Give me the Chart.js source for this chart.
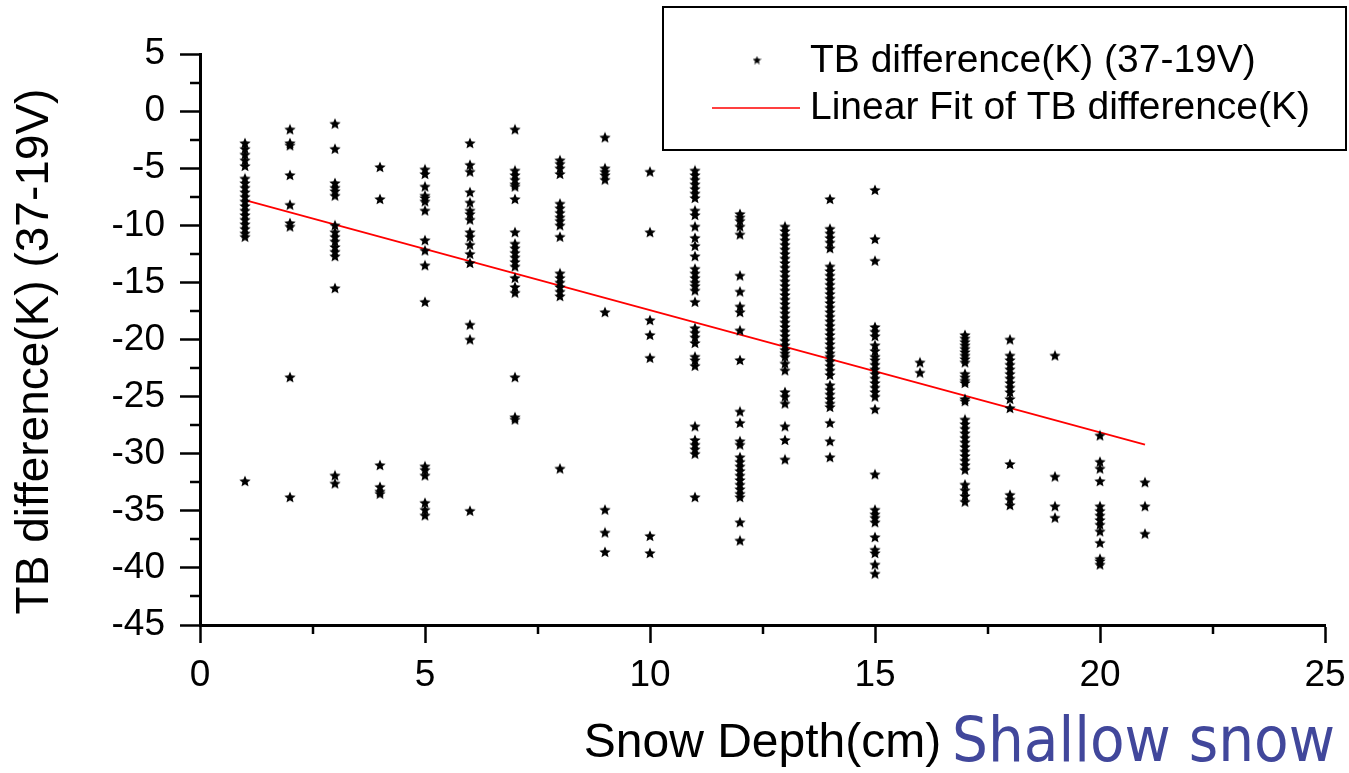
<!DOCTYPE html>
<html>
<head>
<meta charset="utf-8">
<title>TB difference vs snow depth</title>
<script src="https://cdn.jsdelivr.net/npm/chart.js@4.4.1/dist/chart.umd.min.js"></script>
<style>
  html, body { margin: 0; padding: 0; background: #fff; }
  #wrap { position: relative; width: 1349px; height: 773px; }
</style>
</head>
<body>
<div id="wrap"><canvas id="scatter" width="1349" height="773"></canvas></div>
<script>
// TB difference (37-19V) in K, one array per snow depth (cm)
const tb1 = [-2.8, -3.3, -3.8, -4.3, -4.8, -5.9, -6.3, -6.7, -7.1, -7.5, -7.9, -8.3, -8.7, -9.1, -9.5, -9.9, -10.3, -10.7, -11.0, -32.4];
const tb2 = [-1.6, -2.8, -3.0, -5.6, -8.2, -9.8, -10.1, -23.3, -33.8];
const tb3 = [-1.1, -3.3, -6.3, -6.7, -7.0, -7.4, -10.0, -10.6, -11.0, -11.4, -11.9, -12.3, -12.7, -15.5, -31.9, -32.6];
const tb4 = [-4.9, -7.7, -31.0, -32.9, -33.3, -33.5];
const tb5 = [-5.1, -5.5, -6.6, -7.4, -7.6, -7.9, -8.7, -11.3, -12.2, -13.5, -16.7, -31.1, -31.4, -31.9, -34.3, -34.9, -35.4];
const tb6 = [-2.8, -4.7, -5.3, -7.1, -8.0, -8.7, -9.0, -9.5, -10.6, -11.0, -11.7, -12.5, -13.3, -18.7, -20.0, -35.0];
const tb7 = [-1.6, -5.2, -5.6, -6.0, -6.4, -6.6, -7.7, -10.6, -11.6, -12.0, -12.4, -12.8, -13.2, -13.6, -14.6, -15.4, -15.9, -23.3, -26.8, -27.0];
const tb8 = [-4.3, -4.6, -5.0, -5.5, -8.1, -8.5, -8.9, -9.3, -9.6, -10.0, -11.0, -14.2, -14.6, -15.0, -15.4, -15.8, -16.2, -31.3];
const tb9 = [-2.3, -5.0, -5.3, -5.6, -6.0, -17.6, -34.9, -36.9, -38.6];
const tb10 = [-5.3, -10.6, -18.3, -19.6, -21.6, -37.2, -38.7];
const tb11 = [-5.2, -5.6, -6.0, -6.4, -6.8, -7.2, -7.6, -8.7, -9.1, -10.1, -11.1, -11.8, -12.7, -13.8, -14.2, -14.6, -15.0, -15.3, -15.7, -16.7, -19.0, -19.4, -19.8, -20.3, -21.5, -21.8, -22.3, -27.6, -28.8, -29.2, -29.6, -30.0, -33.8];
const tb12 = [-9.0, -9.3, -9.6, -10.1, -10.8, -14.4, -15.8, -17.1, -17.6, -19.2, -21.8, -26.3, -27.3, -28.9, -29.2, -30.3, -30.7, -31.1, -31.5, -31.9, -32.3, -32.7, -33.1, -33.5, -33.8, -36.0, -37.6];
const tb13 = [-10.1, -10.5, -10.9, -11.3, -11.7, -12.1, -12.5, -12.9, -13.3, -13.7, -14.1, -14.5, -14.9, -15.3, -15.7, -16.1, -16.5, -16.9, -17.3, -17.7, -18.1, -18.5, -18.9, -19.3, -19.7, -20.1, -20.5, -20.9, -21.2, -21.5, -22.1, -22.7, -24.6, -25.0, -25.6, -27.6, -28.8, -30.5];
const tb14 = [-7.7, -10.3, -10.7, -11.1, -11.5, -12.0, -13.6, -14.0, -14.4, -14.8, -15.2, -15.6, -16.0, -16.4, -16.8, -17.2, -17.6, -18.0, -18.4, -18.8, -19.2, -19.6, -20.0, -20.4, -20.8, -21.2, -21.5, -21.9, -22.3, -22.7, -23.1, -24.0, -24.4, -24.8, -25.2, -25.6, -25.9, -27.3, -28.9, -30.3];
const tb15 = [-6.9, -11.2, -13.1, -18.9, -19.3, -19.7, -20.5, -21.0, -21.5, -21.8, -22.2, -22.6, -23.0, -23.4, -23.8, -24.2, -24.6, -25.0, -26.1, -31.8, -34.9, -35.3, -35.6, -36.0, -37.3, -38.4, -38.7, -39.7, -40.5];
const tb16 = [-22.0, -22.9];
const tb17 = [-19.6, -19.9, -20.2, -20.5, -20.8, -21.1, -21.4, -21.7, -22.0, -23.0, -23.3, -23.6, -23.8, -25.2, -25.4, -27.0, -27.4, -27.8, -28.2, -28.6, -29.0, -29.4, -29.8, -30.2, -30.6, -31.0, -31.4, -32.7, -33.2, -33.7, -34.2];
const tb18 = [-20.0, -21.4, -21.8, -22.2, -22.6, -23.0, -23.4, -23.8, -24.2, -24.6, -25.2, -26.0, -30.9, -33.6, -34.0, -34.5];
const tb19 = [-21.4, -32.0, -34.6, -35.6];
const tb20 = [-28.4, -30.7, -31.3, -32.4, -34.6, -35.0, -35.4, -35.8, -36.2, -36.8, -37.8, -39.2, -39.4, -39.7];
const tb21 = [-32.5, -34.6, -37.0];

const depths = [1, 2, 3, 4, 5, 6, 7, 8, 9, 10, 11, 12, 13, 14, 15, 16, 17, 18, 19, 20, 21];
const tbColumns = [tb1, tb2, tb3, tb4, tb5, tb6, tb7, tb8, tb9, tb10, tb11, tb12, tb13, tb14, tb15, tb16, tb17, tb18, tb19, tb20, tb21];

// linear fit end points
const fitDepth = [1, 21];
const fitTb = [-7.8, -29.2];

const xTicks = [0, 5, 10, 15, 20, 25];
const yTicks = [5, 0, -5, -10, -15, -20, -25, -30, -35, -40, -45];

const FONT = "'Liberation Sans', Arial, sans-serif";

// filled five point star used as marker
function makeStar(size) {
  const c = document.createElement("canvas");
  c.width = size; c.height = size;
  const g = c.getContext("2d");
  const cx = size / 2, cy = size / 2 + 0.5, R = size / 2, r = R * 0.45;
  g.beginPath();
  for (let i = 0; i < 10; i++) {
    const a = -Math.PI / 2 + i * Math.PI / 5;
    const rad = i % 2 ? r : R;
    g.lineTo(cx + rad * Math.cos(a), cy + rad * Math.sin(a));
  }
  g.closePath();
  g.fillStyle = "#000";
  g.fill();
  return c;
}
const star = makeStar(12);
const smallStar = makeStar(9);

let points = [];
depths.forEach((d, i) => {
  tbColumns[i].forEach(v => points.push({ x: d, y: v }));
});
const fitPoints = fitDepth.map((d, i) => ({ x: d, y: fitTb[i] }));

// minor ticks, y title, legend box and the extra caption
const extras = {
  id: "extras",
  afterDraw(chart) {
    const ctx = chart.ctx;
    const xs = chart.scales.x, ys = chart.scales.y;
    ctx.save();
    ctx.strokeStyle = "#000";
    ctx.lineWidth = 2.5;
    for (let v = 2.5; v < 25; v += 5) {
      const px = Math.round(xs.getPixelForValue(v));
      ctx.beginPath(); ctx.moveTo(px, xs.top); ctx.lineTo(px, xs.top + 9); ctx.stroke();
    }
    for (let v = -42.5; v < 5; v += 5) {
      const py = Math.round(ys.getPixelForValue(v));
      ctx.beginPath(); ctx.moveTo(ys.right, py); ctx.lineTo(ys.right - 10, py); ctx.stroke();
    }

    // y axis title
    ctx.fillStyle = "#000";
    ctx.font = "46px " + FONT;
    ctx.textAlign = "center";
    ctx.textBaseline = "alphabetic";
    ctx.save();
    ctx.translate(48, (ys.top + ys.bottom) / 2 + 12);
    ctx.rotate(-Math.PI / 2);
    ctx.fillText("TB difference(K) (37-19V)", 0, 0);
    ctx.restore();

    // legend
    ctx.lineWidth = 2;
    ctx.strokeRect(663, 7, 683, 143);
    ctx.drawImage(smallStar, 757 - 4.5, 60 - 4.5);
    ctx.strokeStyle = "#ff0000";
    ctx.lineWidth = 1.5;
    ctx.beginPath(); ctx.moveTo(712, 108); ctx.lineTo(800, 108); ctx.stroke();
    ctx.fillStyle = "#000";
    ctx.font = "39px " + FONT;
    ctx.textBaseline = "middle";
    ctx.textAlign = "left";
    ctx.fillText("TB difference(K) (37-19V)", 810, 61);
    ctx.fillText("Linear Fit of TB difference(K)", 810, 108);

    // caption next to the x title, slightly condensed
    ctx.fillStyle = "#41479b";
    ctx.font = "62px 'DejaVu Sans', Verdana, sans-serif";
    ctx.textBaseline = "alphabetic";
    const cap = "Shallow snow";
    const w = ctx.measureText(cap).width;
    ctx.save();
    ctx.translate(952, 761);
    ctx.scale(383 / w, 1);
    ctx.fillText(cap, 0, 0);
    ctx.restore();
    ctx.restore();
  }
};

new Chart(document.getElementById("scatter"), {
  type: "scatter",
  data: {
    datasets: [
      {
        label: "TB difference(K) (37-19V)",
        data: points,
        pointStyle: star,
        pointRadius: 6,
        pointHoverRadius: 6
      },
      {
        type: "line",
        label: "Linear Fit of TB difference(K)",
        data: fitPoints,
        borderColor: "#ff0000",
        borderWidth: 1.8,
        pointRadius: 0,
        fill: false
      }
    ]
  },
  options: {
    responsive: false,
    animation: false,
    devicePixelRatio: 1,
    layout: { padding: { top: 54, right: 24, left: 0, bottom: 0 } },
    plugins: { legend: { display: false }, tooltip: { enabled: false } },
    scales: {
      x: {
        type: "linear",
        min: 0, max: 25,
        afterFit: s => { s.height = 148; s.paddingLeft = 0; s.paddingRight = 0; },
        afterBuildTicks: s => { s.ticks = xTicks.map(v => ({ value: v })); },
        ticks: { color: "#000", font: { family: FONT, size: 37 }, padding: 11 },
        grid: { drawOnChartArea: false, drawTicks: true, tickLength: 18, tickWidth: 2.5, tickColor: "#000" },
        border: { color: "#000", width: 3 },
        title: { display: true, text: "Snow Depth(cm)", color: "#000", font: { family: FONT, size: 48 }, padding: { top: 0, bottom: 0 } }
      },
      y: {
        type: "linear",
        min: -45, max: 5,
        afterFit: s => { s.width = 200; },
        afterBuildTicks: s => { s.ticks = yTicks.map(v => ({ value: v })); },
        ticks: { color: "#000", font: { family: FONT, size: 37 }, padding: 15 },
        grid: { drawOnChartArea: false, drawTicks: true, tickLength: 20, tickWidth: 2.5, tickColor: "#000" },
        border: { color: "#000", width: 3 },
        title: { display: false }
      }
    }
  },
  plugins: [extras]
});
</script>
</body>
</html>
